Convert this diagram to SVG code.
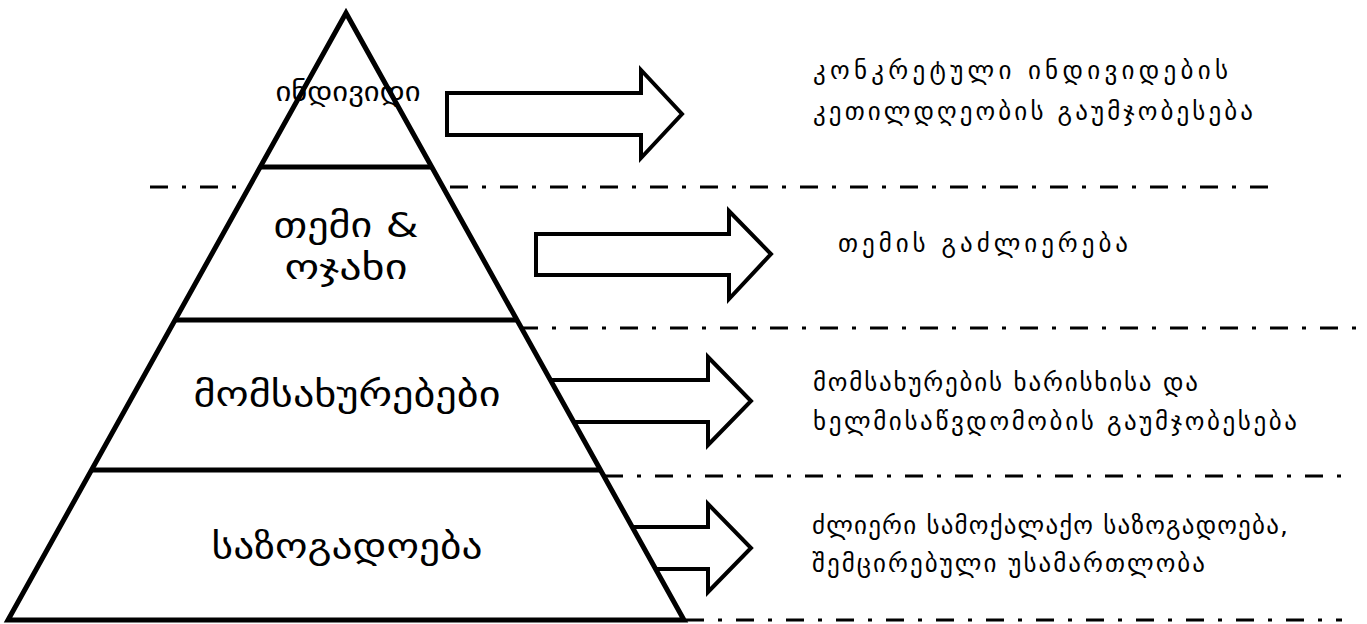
<svg xmlns="http://www.w3.org/2000/svg" width="1367" height="624" viewBox="0 0 1367 624">
<style>
.dash{stroke:#000;stroke-width:3;stroke-dasharray:18 14 4 14;fill:none}
.arr{fill:#fff;stroke:#000;stroke-width:4;stroke-linejoin:miter}
.tri{fill:#fff;stroke:#000;stroke-width:5;stroke-linejoin:miter}
.sep{stroke:#000;stroke-width:5}
.lbl{font-family:"DejaVu Sans","DejaVu Serif",sans-serif;font-size:34px;fill:#000;text-anchor:middle}
.desc{font-family:"DejaVu Sans","DejaVu Serif",sans-serif;font-size:25px;fill:#000}
</style>
<rect width="1367" height="624" fill="#fff"/>
<g id="connectors">
<line class="dash" x1="150" y1="187" x2="1268" y2="187"/>
<line class="dash" x1="520" y1="328" x2="1360" y2="328"/>
<line class="dash" x1="605" y1="476" x2="1342" y2="476"/>
<line class="dash" x1="686" y1="620" x2="1342" y2="620"/>
<polygon class="arr" points="447,93 641,93 641,70 682,114 641,158 641,135 447,135"/>
<polygon class="arr" points="536,234 729,234 729,211 771,254 729,299 729,275 536,275"/>
<polygon class="arr" points="500,380 708,380 708,357 751,401 708,445 708,422 500,422"/>
<polygon class="arr" points="560,527 708,527 708,504 751,548 708,592 708,569 560,569"/>
</g>
<g id="pyramid">
<polygon class="tri" points="346,13 8,620 684,620"/>
<line class="sep" x1="260" y1="167" x2="432" y2="167"/>
<line class="sep" x1="175" y1="320" x2="517" y2="320"/>
<line class="sep" x1="91" y1="470" x2="601" y2="470"/>
</g>
<g id="node-individual">
<text class="lbl" x="348" y="101" style="font-size:27px" textLength="145" lengthAdjust="spacingAndGlyphs">ინდივიდი</text>
</g>
<g id="node-community">
<text class="lbl" x="346" y="237" textLength="145" lengthAdjust="spacingAndGlyphs">თემი &amp;</text>
<text class="lbl" x="346" y="279" textLength="123" lengthAdjust="spacingAndGlyphs">ოჯახი</text>
</g>
<g id="node-services">
<text class="lbl" x="347" y="406" textLength="307" lengthAdjust="spacingAndGlyphs">მომსახურებები</text>
</g>
<g id="node-society">
<text class="lbl" x="347" y="558" textLength="271" lengthAdjust="spacingAndGlyphs">საზოგადოება</text>
</g>
<g id="desc-individual">
<text class="desc" x="813" y="79" textLength="415" lengthAdjust="spacing">კონკრეტული ინდივიდების</text>
<text class="desc" x="813" y="120" textLength="440" lengthAdjust="spacing">კეთილდღეობის გაუმჯობესება</text>
</g>
<g id="desc-community">
<text class="desc" x="838" y="252" textLength="290" lengthAdjust="spacing">თემის გაძლიერება</text>
</g>
<g id="desc-services">
<text class="desc" x="813" y="391" textLength="385" lengthAdjust="spacing">მომსახურების ხარისხისა და</text>
<text class="desc" x="813" y="430" textLength="484" lengthAdjust="spacing">ხელმისაწვდომობის გაუმჯობესება</text>
</g>
<g id="desc-society">
<text class="desc" x="812" y="534" textLength="476" lengthAdjust="spacing">ძლიერი სამოქალაქო საზოგადოება,</text>
<text class="desc" x="812" y="572" textLength="393" lengthAdjust="spacing">შემცირებული უსამართლობა</text>
</g>
</svg>
